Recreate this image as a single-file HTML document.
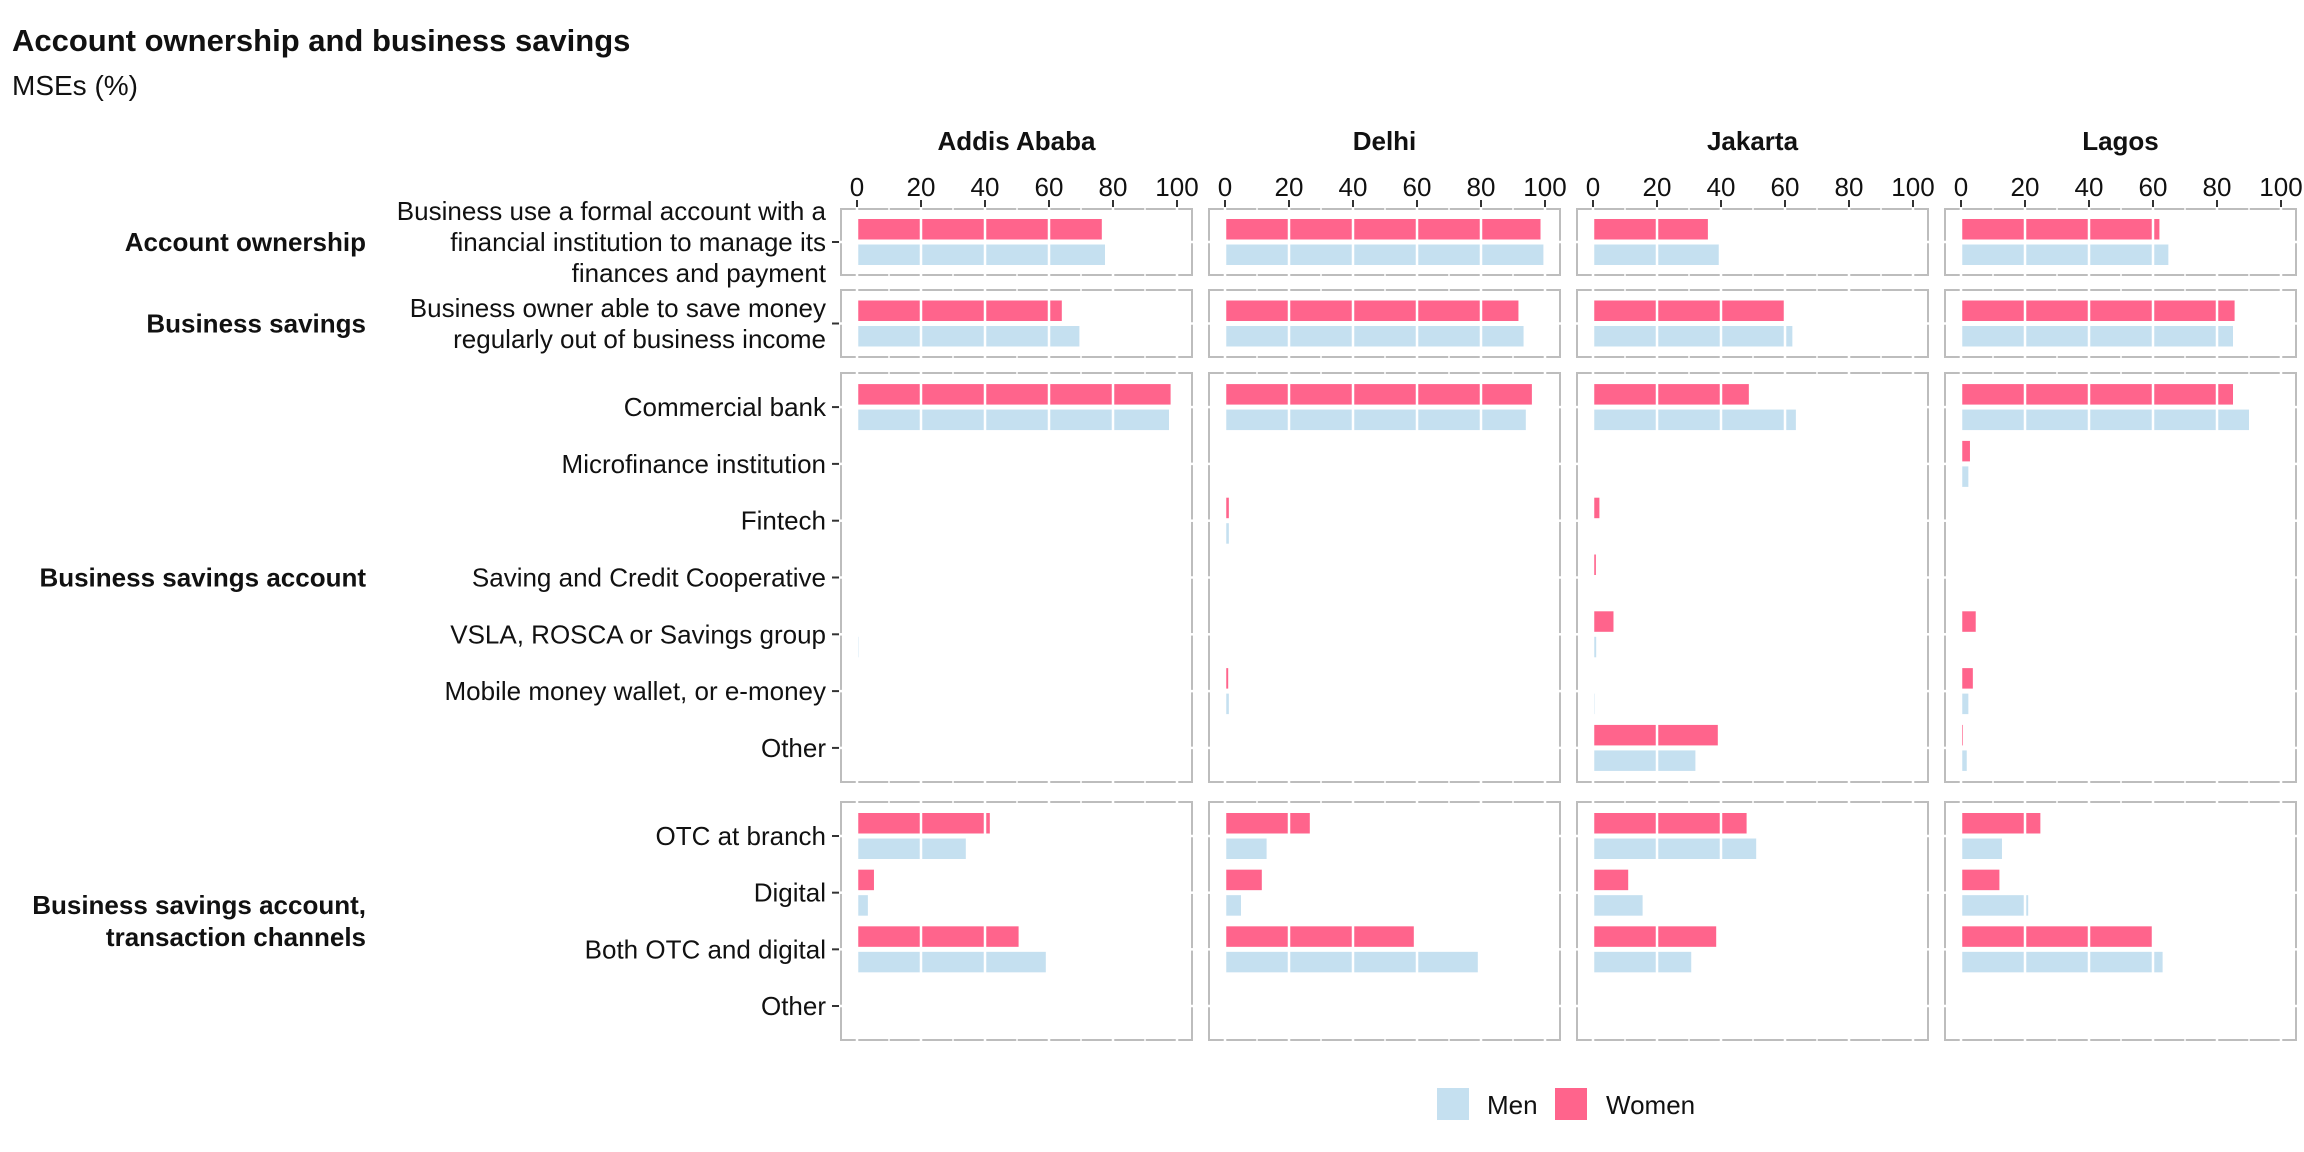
<!DOCTYPE html>
<html><head><meta charset="utf-8"><style>
html,body{margin:0;padding:0;background:#fff;}
svg{display:block;font-family:"Liberation Sans",Arial,sans-serif;}
</style></head><body>
<svg id="chart" width="2304" height="1152" viewBox="0 0 2304 1152" xmlns="http://www.w3.org/2000/svg">
<text x="12" y="51" font-size="31" font-weight="bold" fill="#111">Account ownership and business savings</text>
<text x="12" y="95" font-size="28" fill="#111">MSEs (%)</text>
<g id="plot"></g>
<g>
<rect x="1437" y="1088" width="32" height="32" fill="#C5E0F0"/>
<text x="1487" y="1114" font-size="26" fill="#111">Men</text>
<rect x="1555" y="1088" width="32" height="32" fill="#FF648C"/>
<text x="1606" y="1114" font-size="26" fill="#111">Women</text>
</g>
</svg>
<script>
const cities = ["Addis Ababa","Delhi","Jakarta","Lagos"];
const groups = ["Account ownership","Business savings","Business savings account","Business savings account,\ntransaction channels"];
const categories = [
 ["Business use a formal account with a\nfinancial institution to manage its\nfinances and payment"],
 ["Business owner able to save money\nregularly out of business income"],
 ["Commercial bank","Microfinance institution","Fintech","Saving and Credit Cooperative","VSLA, ROSCA or Savings group","Mobile money wallet, or e-money","Other"],
 ["OTC at branch","Digital","Both OTC and digital","Other"]
];
const xTicks = [0,20,40,60,80,100];
const womenAddis = [[76.5],[64],[98,0,0,0,0,0,0],[41.5,5.3,50.5,0]];
const menAddis   = [[77.5],[69.5],[97.5,0,0,0,0.5,0,0],[34,3.4,59,0]];
const womenDelhi = [[98.6],[91.7],[95.9,0,1.2,0,0,1,0],[26.5,11.5,59,0]];
const menDelhi   = [[99.5],[93.3],[94,0,1.2,0,0,1.2,0],[13,5,79,0]];
const womenJakarta = [[35.9],[59.8],[48.7,0,2,0.9,6.4,0,39],[48,11,38.5,0]];
const menJakarta   = [[39.3],[62.3],[63.4,0,0,0,1,0.5,32],[51,15.5,30.7,0]];
const womenLagos = [[62],[85.5],[85,2.8,0,0,4.6,3.7,0.6],[24.8,12,60,0]];
const menLagos   = [[64.8],[85],[90,2.3,0,0,0.3,2.3,1.8],[12.8,21,63,0]];
const women = [womenAddis,womenDelhi,womenJakarta,womenLagos];
const men = [menAddis,menDelhi,menJakarta,menLagos];

const NS="http://www.w3.org/2000/svg";
const plot=document.getElementById('plot');
function mk(tag,attrs,parent){const e=document.createElementNS(NS,tag);for(const k in attrs)e.setAttribute(k,attrs[k]);(parent||plot).appendChild(e);return e;}
const panelLeft=[841,1209,1577,1945], panelW=351;
const rowTop=[209,290,373,802], rowBot=[275,357,782,1040];
const xScale=(ci,v)=>panelLeft[ci]+16+v*3.2;
function yCat(g,i){const n=categories[g].length;const u=(rowBot[g]-rowTop[g])/(n-1+1.2);return rowTop[g]+0.6*u+i*u;}

cities.forEach((c,ci)=>{
  const t=mk('text',{x:panelLeft[ci]+panelW/2,y:150,'font-size':26,'font-weight':'bold','text-anchor':'middle',fill:'#111'});
  t.textContent=c;
  
  
  xTicks.forEach(v=>{
    const x=xScale(ci,v);
    const tl=mk('text',{x:x,y:196,'font-size':26,'text-anchor':'middle',fill:'#111'});
    tl.textContent=v;
    
    
    mk('line',{x1:x,x2:x,y1:200,y2:208,stroke:'#333','stroke-width':2});
  });
});
groups.forEach((g,gi)=>{
  const lines=g.split('\n');const cy=(rowTop[gi]+rowBot[gi])/2;
  lines.forEach((ln,li)=>{
    const t=mk('text',{x:366,y:cy+9+(li-(lines.length-1)/2)*32,'font-size':26,'font-weight':'bold','text-anchor':'end',fill:'#111'});
    t.textContent=ln;
    
    
  });
  categories[gi].forEach((c,i)=>{
    const y=yCat(gi,i);const lines=c.split('\n');
    lines.forEach((ln,li)=>{
      const t=mk('text',{x:826,y:y+9+(li-(lines.length-1)/2)*31,'font-size':26,'text-anchor':'end',fill:'#111'});
      t.textContent=ln;
      
      
    });
    mk('line',{x1:832,x2:839,y1:y,y2:y,stroke:'#333','stroke-width':2});
  });
});
cities.forEach((c,ci)=>{
  groups.forEach((g,gi)=>{
    const r=mk('rect',{x:panelLeft[ci],y:rowTop[gi],width:panelW,height:rowBot[gi]-rowTop[gi],fill:'#fff',stroke:'#bdbdbd','stroke-width':2});
    
    
    categories[gi].forEach((cat,i)=>{
      const y=yCat(gi,i);
      const wv=women[ci][gi][i], mv=men[ci][gi][i];
      if(wv>0){const b=mk('rect',{x:xScale(ci,0),y:y-23,width:xScale(ci,wv)-xScale(ci,0),height:20.5,fill:'#FF648C'});
        
        }
      if(mv>0){const b=mk('rect',{x:xScale(ci,0),y:y+2.5,width:xScale(ci,mv)-xScale(ci,0),height:20.5,fill:'#C5E0F0'});
        
        }
    });
    for(let v=0;v<=100;v+=10){const x=xScale(ci,v);
      if(v%20===0){
        mk('line',{x1:x,x2:x,y1:rowTop[gi]-2,y2:rowBot[gi]+2,stroke:'#fff','stroke-width':2.5});
      } else {
        mk('line',{x1:x,x2:x,y1:rowTop[gi]-2,y2:rowTop[gi]+2,stroke:'#fff','stroke-width':1.5});
        mk('line',{x1:x,x2:x,y1:rowBot[gi]-2,y2:rowBot[gi]+2,stroke:'#fff','stroke-width':1.5});
      }}
    categories[gi].forEach((cat,i)=>{const y=yCat(gi,i);
      mk('line',{x1:panelLeft[ci]-2,x2:panelLeft[ci]+2,y1:y,y2:y,stroke:'#fff','stroke-width':2.5});
      mk('line',{x1:panelLeft[ci]+panelW-2,x2:panelLeft[ci]+panelW+2,y1:y,y2:y,stroke:'#fff','stroke-width':2.5});});
  });
});
</script>
</body></html>
